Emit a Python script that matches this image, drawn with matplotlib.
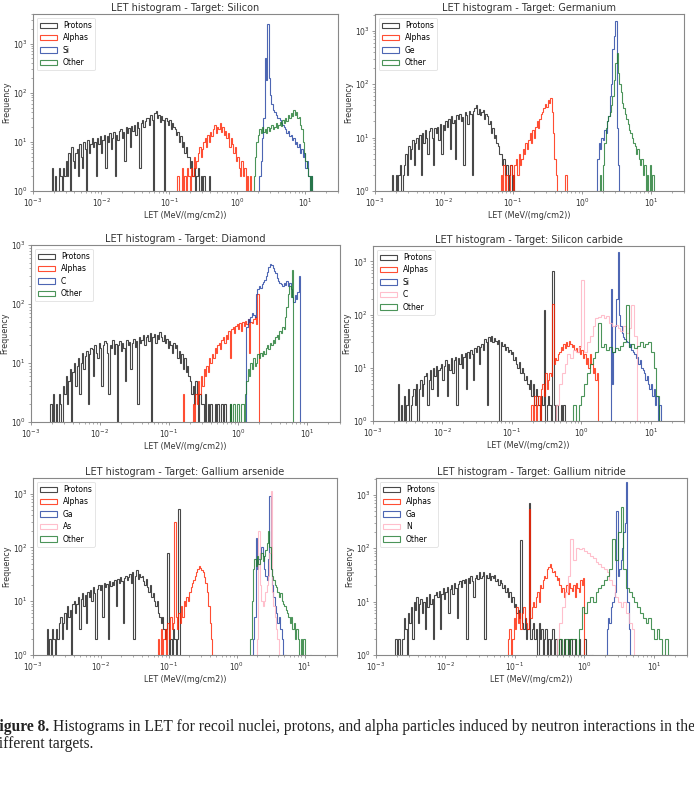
import matplotlib.pyplot as plt
import numpy as np

W, H = 694, 792

# bin counts, log10 of first bin edge and bin width (decades)
# Silicon
silicon_protons = [3, 1, 2, 1, 1, 3, 2, 1, 3, 2,
                   4, 2, 6, 1, 8, 4, 3, 6, 7, 2,
                   9, 5, 3, 10, 7, 1, 11, 6, 9, 12,
                   8, 10, 2, 12, 9, 13, 6, 11, 14, 3,
                   13, 10, 15, 7, 12, 16, 2, 14, 11, 17,
                   18, 12, 16, 4, 20, 15, 19, 8, 21, 17,
                   22, 14, 25, 19, 3, 24, 28, 20, 26, 30,
                   30, 22, 35, 28, 1, 38, 42, 30, 36, 25,
                   33, 28, 1, 30, 26, 22, 28, 18, 24, 20,
                   18, 14, 16, 10, 13, 8, 10, 6, 8, 5,
                   5, 3, 4, 2, 3, 1, 2, 3, 1, 2,
                   1, 2, 0, 1, 0, 2]
silicon_alphas = [2, 1, 1, 3, 1, 2, 1, 3, 2, 1,
                  3, 2, 5, 3, 4, 6, 8, 5, 7, 10,
                  12, 8, 14, 10, 16, 13, 18, 22, 15, 20,
                  18, 24, 16, 20, 14, 17, 12, 15, 8, 12,
                  9, 6, 8, 4, 5, 3, 2, 4, 2, 3,
                  1, 2, 1, 2]
silicon_si = [1, 2, 4, 12, 30, 500, 180, 2500, 200, 90, 60, 45, 40, 35, 30, 30, 28, 24, 22, 20,
              18, 15, 17, 13, 14, 11, 12, 9, 10, 8, 9, 6, 7, 5, 6, 3, 4, 2, 1, 2, 1]
silicon_other = [1, 2, 5, 10, 14, 18, 15, 20, 16, 18, 15, 20, 17, 19, 22, 18, 20, 24, 19, 22,
                 25, 21, 28, 24, 30, 27, 35, 30, 38, 33, 45, 36, 40, 30, 32, 22, 18, 10, 6, 4,
                 3, 2, 1, 2]
silicon_lo = [-2.72, -0.88, 0.30, 0.22]
silicon_dw = [0.02, 0.02, 0.02, 0.02]

# Germanium
germanium_protons = [1, 2, 1, 1, 2, 1, 2, 3, 1, 2,
                     3, 5, 2, 7, 4, 6, 9, 3, 8, 10,
                     6, 11, 2, 12, 8, 14, 10, 5, 13, 15,
                     10, 3, 15, 12, 16, 9, 18, 5, 17, 14,
                     20, 16, 22, 6, 25, 19, 21, 4, 26, 22,
                     28, 20, 24, 3, 30, 26, 18, 32, 27, 2,
                     32, 36, 40, 28, 34, 26, 30, 33, 22, 28,
                     25, 18, 20, 12, 15, 10, 11, 8, 7, 5,
                     5, 3, 4, 2, 3, 1, 2, 3, 1, 2,
                     1, 0, 1, 1]
germanium_alphas = [2, 1, 3, 1, 2, 1, 1, 3, 2, 1,
                    3, 4, 2, 5, 3, 4, 6, 5, 8, 6,
                    9, 12, 8, 14, 10, 16, 20, 15, 22, 28,
                    30, 35, 42, 38, 50, 45, 55, 30, 12, 4,
                    2, 0, 0, 0, 0, 0, 0, 2, 0]
germanium_ge = [1, 4, 8, 6, 10, 9, 14, 12, 20, 25, 60, 100, 450, 800, 1500, 15, 3, 1]
germanium_other = [1, 2, 1, 3, 8, 15, 20, 25, 30, 40, 60, 120, 250, 380, 160, 100, 70, 45, 35, 28,
                   22, 18, 14, 12, 10, 8, 7, 5, 6, 4, 3, 4, 2, 3, 1, 2, 1, 3, 1, 2]
germanium_lo = [-2.78, -1.18, 0.20, 0.24]
germanium_dw = [0.02, 0.02, 0.02, 0.02]

# Diamond
diamond_protons = [2, 1, 3, 1, 2, 1, 3, 2, 1, 4,
                   3, 6, 2, 5, 8, 1, 7, 10, 4, 9,
                   12, 3, 10, 15, 8, 13, 16, 2, 14, 18,
                   17, 6, 20, 15, 12, 22, 18, 4, 20, 24,
                   22, 15, 3, 20, 18, 25, 14, 21, 1, 20,
                   24, 16, 22, 18, 5, 25, 20, 23, 8, 22,
                   26, 19, 24, 2, 28, 22, 25, 30, 20, 28,
                   30, 24, 32, 1, 28, 31, 22, 30, 26, 33,
                   28, 24, 30, 22, 26, 18, 24, 20, 15, 22,
                   18, 20, 12, 16, 10, 14, 8, 12, 7, 9,
                   6, 5, 3, 4, 2, 5, 3, 1, 3, 2,
                   2, 1, 3, 1, 2, 1, 2, 0, 1, 2,
                   1, 2, 1, 0, 2, 1, 2, 1, 0, 1,
                   2, 1]
diamond_alphas = [3, 0, 0, 0, 0, 0, 1, 2, 1, 3,
                  2, 5, 3, 6, 4, 8, 6, 9, 7, 12,
                  10, 14, 12, 18, 15, 20, 22, 17, 25, 28,
                  22, 30, 26, 35, 12, 38, 40, 32, 42, 45,
                  38, 48, 35, 50, 42, 52, 45, 55, 15, 50,
                  48, 55, 60, 45, 150]
diamond_c = [40, 55, 50, 60, 70, 65, 60, 150, 180, 200, 190, 220, 240, 260, 300, 350, 420, 480, 450, 400,
             360, 330, 280, 250, 230, 220, 200, 230, 210, 250, 200, 230, 180, 130, 110, 140, 120, 160, 300]
diamond_other = [2, 1, 2, 2, 1, 2, 2, 1, 2, 2, 1, 3, 5, 8, 6, 10, 8, 12, 9, 10,
                 14, 12, 15, 13, 16, 14, 18, 20, 17, 22, 20, 25, 22, 28, 30, 26, 35, 32, 40, 38,
                 60, 90, 150, 200, 130, 380]
diamond_lo = [-2.72, -0.80, 0.12, -0.12]
diamond_dw = [0.02, 0.02, 0.02, 0.02]

# Silicon carbide
sic_protons = [5, 1, 2, 1, 3, 1, 2, 4, 1, 2,
               3, 4, 2, 5, 1, 4, 6, 3, 5, 7,
               8, 2, 6, 9, 4, 10, 7, 11, 3, 9,
               10, 12, 6, 11, 14, 3, 12, 9, 15, 8,
               14, 16, 2, 15, 12, 18, 10, 16, 19, 4,
               20, 15, 22, 18, 6, 24, 20, 26, 12, 25,
               28, 22, 35, 30, 2, 38, 32, 40, 30, 36,
               32, 28, 34, 1, 30, 26, 28, 22, 25, 20,
               22, 18, 20, 14, 16, 12, 10, 13, 8, 10,
               8, 6, 7, 5, 4, 6, 3, 5, 2, 4,
               3, 2, 1, 3, 2, 120, 1, 2, 3, 2,
               1, 650, 2, 1, 2, 1, 0, 2, 1, 2]
sic_alphas = [2, 1, 3, 1, 2, 3, 1, 4, 5, 3,
              8, 4, 6, 8, 7, 160, 12, 15, 14, 18,
              20, 25, 22, 28, 24, 30, 26, 32, 28, 25,
              27, 22, 24, 20, 26, 18, 22, 15, 18, 12,
              15, 10, 18, 12, 8, 10, 6, 8]
sic_si = [1, 300, 5, 20, 60, 200, 1500, 100, 60, 45, 38, 35, 32, 30, 25, 28, 22, 20, 18, 15,
          16, 12, 14, 10, 9, 8, 6, 7, 5, 4, 5, 3, 4, 2, 3, 1, 2]
sic_c = [2, 5, 8, 12, 18, 15, 22, 20, 25, 450, 20, 30, 40, 60, 85, 90, 100, 85, 95, 70,
         60, 65, 55, 50, 60, 45, 55, 150, 40]
sic_other = [1, 2, 1, 2, 3, 5, 8, 12, 15, 20, 70, 25, 28, 22, 25, 20, 24, 22, 26, 30,
             150, 25, 28, 24, 26, 30, 25, 28, 30, 20, 10, 3, 1]
sic_lo = [-2.64, -0.72, 0.40, -0.36, -0.16]
sic_dw = [0.02, 0.02, 0.02, 0.04, 0.04]

# Gallium arsenide
gaas_protons = [3, 1, 2, 1, 3, 2, 1, 3, 2, 4,
                5, 2, 4, 6, 3, 8, 5, 7, 1, 9,
                10, 6, 9, 12, 3, 11, 14, 8, 13, 4,
                15, 12, 16, 10, 18, 14, 2, 17, 20, 16,
                20, 5, 22, 18, 21, 2, 24, 19, 23, 20,
                25, 8, 26, 22, 28, 24, 4, 27, 30, 25,
                28, 32, 22, 35, 2, 30, 38, 26, 32, 28,
                30, 24, 20, 26, 18, 15, 20, 12, 14, 10,
                8, 10, 6, 5, 4, 5, 3, 2, 3, 80,
                1, 2, 1, 3, 2, 1, 2, 510]
gaas_alphas = [2, 1, 3, 1, 2, 3, 1, 4, 2, 5,
               3, 4, 300, 5, 3, 6, 4, 8, 5, 10,
               8, 12, 10, 15, 18, 22, 25, 30, 35, 40,
               45, 42, 38, 35, 28, 22, 15, 8, 4, 2,
               1, 1]
gaas_ga = [1, 2, 5, 150, 40, 60, 80, 100, 70, 40, 30, 25, 60, 900, 40, 20, 12, 8, 6, 4,
           5, 3, 2, 1, 1]
gaas_as = [2, 200, 20, 10, 8, 10, 15, 20, 30, 80, 1100, 15, 8, 5, 3, 2, 1, 1]
gaas_other = [2, 10, 40, 60, 45, 70, 50, 60, 80, 55, 70, 90, 120, 200, 100, 40, 30, 25, 20, 18,
              15, 12, 14, 10, 9, 8, 7, 6, 5, 4, 5, 3, 4, 2, 3, 2, 1, 2, 1, 2,
              1, 0, 0, 0, 1]
gaas_lo = [-2.80, -1.16, 0.22, 0.30, 0.20]
gaas_dw = [0.02, 0.02, 0.02, 0.02, 0.02]

# Gallium nitride
gan_protons = [2, 1, 2, 1, 1, 2, 5, 3, 1, 6,
               4, 8, 2, 10, 7, 12, 4, 9, 11, 6,
               10, 3, 12, 8, 14, 9, 11, 2, 13, 15,
               12, 16, 3, 14, 18, 11, 15, 19, 6, 17,
               20, 14, 22, 18, 5, 21, 24, 19, 25, 22,
               26, 2, 28, 22, 30, 24, 12, 28, 32, 26,
               35, 28, 30, 36, 2, 32, 28, 34, 25, 30,
               28, 32, 24, 26, 20, 25, 22, 18, 20, 15,
               18, 12, 15, 10, 12, 8, 9, 6, 7, 5,
               140, 4, 3, 5, 2, 3, 700, 2, 3, 4,
               2, 3, 1, 4, 2, 3, 1, 2, 3, 1,
               2, 1, 2, 3, 1, 2, 1, 0, 2, 1,
               1, 2, 0, 1, 2, 1, 2, 0, 1, 2,
               1, 0, 2, 1, 1, 0, 2, 1, 0, 1,
               0, 1]
gan_alphas = [1, 2, 3, 1, 2, 5, 3, 8, 4, 6,
              3, 6, 8, 5, 4, 3, 550, 5, 8, 10,
              8, 12, 15, 10, 20, 18, 25, 30, 28, 40,
              45, 50, 42, 35, 38, 30, 25, 28, 20, 15,
              18, 12, 15, 20, 14, 22, 18, 16, 20, 12,
              22, 18, 15, 25, 20, 28]
gan_ga = [1, 3, 5, 4, 8, 10, 12, 15, 500, 30, 40, 60, 100, 200, 300, 1700, 10, 3, 1]
gan_n = [2, 4, 8, 15, 30, 150, 60, 100, 95, 100, 90, 80, 70, 65, 55, 50, 45, 40, 35, 25,
         20, 12, 10, 8, 10, 6, 4, 3]
gan_other = [1, 2, 1, 2, 1, 2, 2, 1, 3, 8, 6, 10, 12, 10, 15, 18, 20, 25, 30, 40,
             150, 60, 200, 600, 40, 18, 15, 12, 10, 8, 6, 5, 4, 5, 3, 2, 3, 2, 1, 2, 1]
gan_lo = [-2.72, -1.12, 0.30, -0.40, -0.40]
gan_dw = [0.02, 0.02, 0.02, 0.04, 0.04]

titles = ["Silicon", "Germanium", "Diamond", "Silicon carbide", "Gallium arsenide", "Gallium nitride"]
labels = [["Protons", "Alphas", "Si", "Other"],
          ["Protons", "Alphas", "Ge", "Other"],
          ["Protons", "Alphas", "C", "Other"],
          ["Protons", "Alphas", "Si", "C", "Other"],
          ["Protons", "Alphas", "Ga", "As", "Other"],
          ["Protons", "Alphas", "Ga", "N", "Other"]]
counts = [[silicon_protons, silicon_alphas, silicon_si, silicon_other],
          [germanium_protons, germanium_alphas, germanium_ge, germanium_other],
          [diamond_protons, diamond_alphas, diamond_c, diamond_other],
          [sic_protons, sic_alphas, sic_si, sic_c, sic_other],
          [gaas_protons, gaas_alphas, gaas_ga, gaas_as, gaas_other],
          [gan_protons, gan_alphas, gan_ga, gan_n, gan_other]]
starts = [silicon_lo, germanium_lo, diamond_lo, sic_lo, gaas_lo, gan_lo]
widths = [silicon_dw, germanium_dw, diamond_dw, sic_dw, gaas_dw, gan_dw]
ytops = [4000, 2050, 1000, 1950, 1950, 2050]

# axes boxes in pixels: left, top, right, bottom
boxes = [(33, 14, 338, 191), (375, 14, 684, 191),
         (31, 245, 340, 422), (373, 246, 684, 421),
         (33, 478, 337, 655), (376, 478, 687, 655)]

col4 = ["#1a1a1a", "#ff2200", "#2040a0", "#1e7a30"]
col5 = ["#1a1a1a", "#ff2200", "#2040a0", "#ffb0c0", "#1e7a30"]
frame = "#888888"

fig = plt.figure(figsize=(W / 100, H / 100), dpi=100)

for k in range(6):
    l, t, r, b = boxes[k]
    ax = fig.add_axes([l / W, 1 - b / H, (r - l) / W, (b - t) / H])
    cols = col4 if len(labels[k]) == 4 else col5
    for j, c in enumerate(counts[k]):
        edges = 10 ** (starts[k][j] + widths[k][j] * np.arange(len(c) + 1))
        mids = np.sqrt(edges[:-1] * edges[1:])
        ax.hist(mids, bins=edges, weights=c, histtype='step', log=True,
                color=cols[j], alpha=0.8, lw=0.8, label=labels[k][j])
    ax.set_xscale('log')
    ax.set_xlim(1e-3, 30)
    ax.set_ylim(1, ytops[k])
    ax.set_title("LET histogram - Target: " + titles[k], fontsize=7, color="#333333", pad=2.5)
    ax.set_xlabel("LET (MeV/(mg/cm2))", fontsize=5.8, color="#333333", labelpad=1.5)
    ax.set_ylabel("Frequency", fontsize=5.8, color="#333333", labelpad=1)
    for s in ax.spines.values():
        s.set_color(frame)
        s.set_linewidth(0.8)
    ax.tick_params(which='major', length=2.5, width=0.6, colors=frame, labelsize=5.5,
                   labelcolor="#333333", pad=1.5)
    ax.tick_params(which='minor', length=1.5, width=0.5, colors=frame)
    leg = ax.legend(loc='upper left', fontsize=5.5, handlelength=2.2, labelspacing=0.45,
                    borderpad=0.4, fancybox=True, framealpha=0.9)
    leg.get_frame().set_edgecolor("#dddddd")
    leg.get_frame().set_linewidth(0.6)

# caption, cut at the left edge like the source page
cap_font = dict(family="Liberation Serif", fontsize=11.2, color="#222222")
fig.canvas.draw()
rend = fig.canvas.get_renderer()
probe = fig.text(0, 0, "F", fontweight='bold', **cap_font)
fw = probe.get_window_extent(rend).width
probe.remove()
x0 = -fw / W
t1 = fig.text(x0, 1 - 731 / H, "Figure 8.", fontweight='bold', **cap_font)
bb = t1.get_window_extent(rend)
fig.text(bb.x1 / W + 0.005, 1 - 731 / H,
         "Histograms in LET for recoil nuclei, protons, and alpha particles induced by neutron interactions in the",
         **cap_font)
fig.text(x0 + 0.001, 1 - 748 / H, "different targets.", **cap_font)

fig.savefig("out.png", dpi=100)
